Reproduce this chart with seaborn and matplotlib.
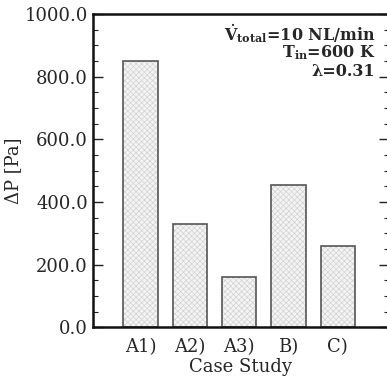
import matplotlib
matplotlib.use("Agg")
import matplotlib.pyplot as plt
import seaborn as sns
import pandas as pd
from matplotlib.ticker import MultipleLocator, FormatStrFormatter

cases = ["A1)", "A2)", "A3)", "B)", "C)"]
dp = [849, 328, 161, 453, 260]

sns.set_style("white")
plt.rcParams["font.family"] = ["DejaVu Serif"]
plt.rcParams["mathtext.fontset"] = "dejavuserif"
plt.rcParams["hatch.linewidth"] = 0.5

df = pd.DataFrame({"case": cases, "dp": dp})

fig = plt.figure(figsize=(3.87, 3.77), dpi=100)
ax = fig.add_axes([0.240, 0.132, 0.764, 0.831])

# hatched light fill
sns.barplot(data=df, x="case", y="dp", ax=ax, color="#f4f4f4",
            edgecolor="#d2d2d2", linewidth=0, width=0.7, saturation=1)
for p in ax.patches:
    p.set_hatch("xxxxxx")
# dark outline
sns.barplot(data=df, x="case", y="dp", ax=ax, color="#555555", fill=False,
            linewidth=1.2, width=0.7, saturation=1)

ax.set_xlim(-0.97, 5.03)
ax.set_ylim(0, 1000)
ax.yaxis.set_major_locator(MultipleLocator(200))
ax.yaxis.set_minor_locator(MultipleLocator(50))
ax.yaxis.set_major_formatter(FormatStrFormatter("%.1f"))
ax.tick_params(axis="y", which="major", direction="in", length=7, width=1.0,
               left=True, right=True, labelsize=13, color="#222222")
ax.tick_params(axis="y", which="minor", direction="in", length=3.5, width=0.8,
               left=True, right=True, color="#222222")
ax.tick_params(axis="x", which="both", bottom=False, top=False, labelsize=13, pad=4)

for s in ["left", "bottom", "top", "right"]:
    ax.spines[s].set_visible(True)
    ax.spines[s].set_color("#111111")
    ax.spines[s].set_linewidth(1.8)

ax.set_xlabel("Case Study", fontsize=13, labelpad=2)
ax.set_ylabel("ΔP [Pa]", fontsize=13, labelpad=2)

ax.text(0.955, 0.975, r"$\mathbf{\dot{V}_{total}}$=10 NL/min", transform=ax.transAxes,
        ha="right", va="top", fontsize=11.5, fontweight="bold")
ax.text(0.955, 0.905, r"$\mathbf{T_{in}}$=600 K", transform=ax.transAxes,
        ha="right", va="top", fontsize=11.5, fontweight="bold")
ax.text(0.955, 0.845, r"λ=0.31", transform=ax.transAxes,
        ha="right", va="top", fontsize=11.5, fontweight="bold")

fig.savefig("out.png", dpi=100)
